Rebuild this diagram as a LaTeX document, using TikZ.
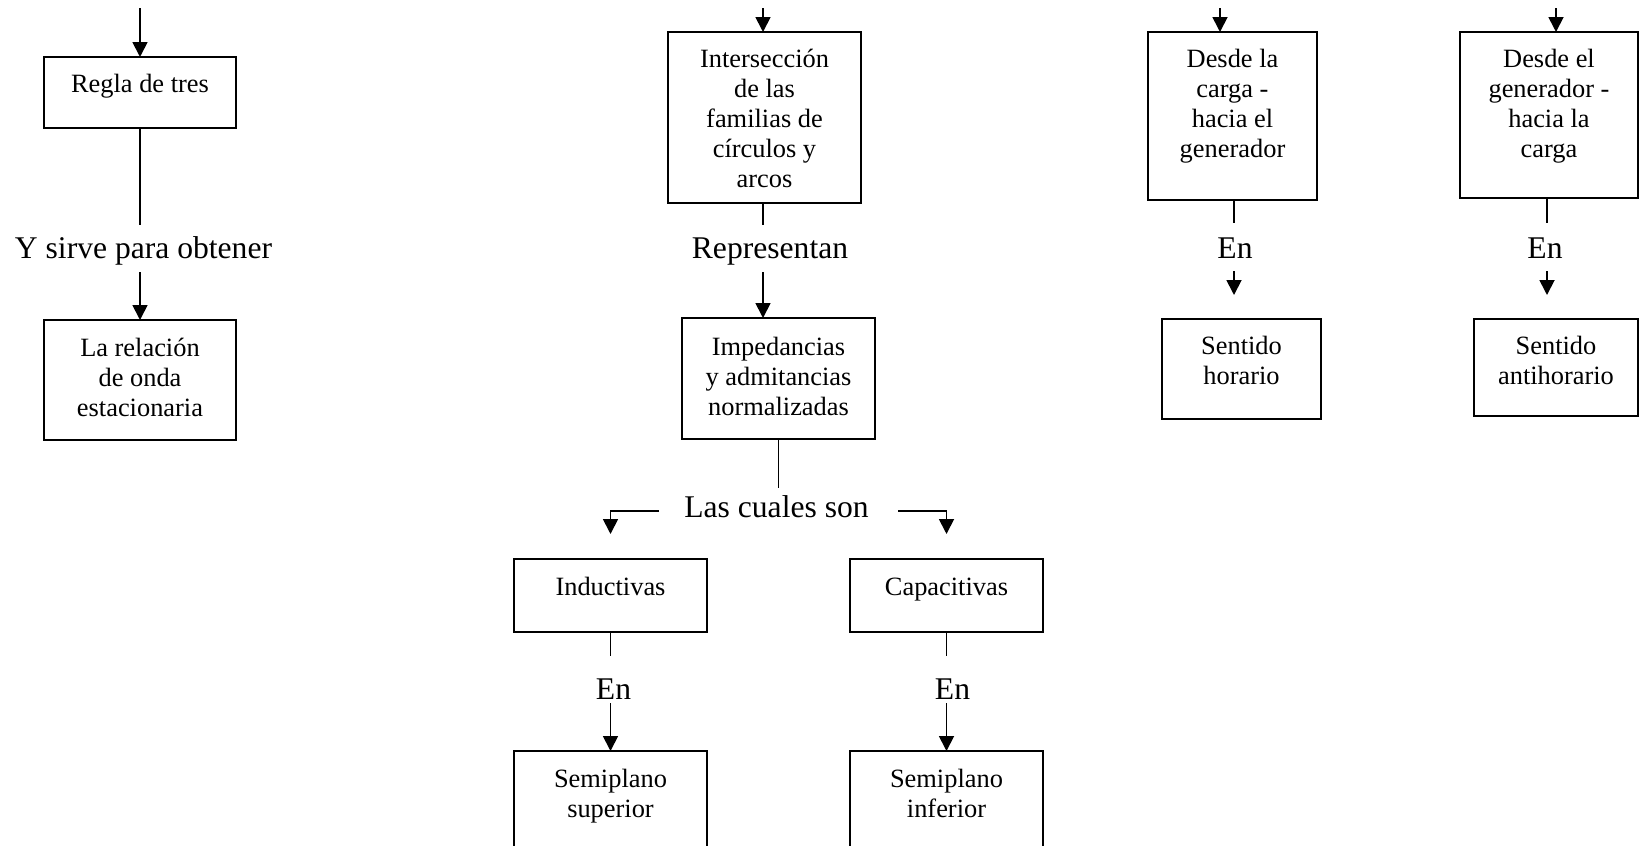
\documentclass[tikz,border=0pt]{standalone}
\usepackage{fontspec}
\setmainfont{Liberation Serif}
\usetikzlibrary{arrows.meta}

% font sizes for box texts and for the connector labels
\newcommand\boxfont{\fontsize{13.2}{15}\selectfont}
\newcommand\lblfont{\fontsize{15.8}{18}\selectfont}
% centred lines, aligned on the baseline of the first line
\newcommand\stack[1]{\begin{tabular}[t]{@{}c@{}}#1\end{tabular}}
% empty framed box given by its corners (x1,y1) and (x2,y2)
\newcommand\frameat[5]{%
  \node[frame, minimum width={(#4-#2)*0.5pt}, minimum height={(#5-#3)*0.5pt}] (#1) at (#2,#3) {};}

\begin{document}
\begin{tikzpicture}[x=0.5pt, y=-0.5pt,
  frame/.style={draw, line width=1pt, inner sep=0pt, outer sep=0pt, anchor=north west},
  btext/.style={anchor=base, inner sep=0pt, outer sep=0pt, font=\boxfont},
  lbl/.style={anchor=base, inner sep=0pt, outer sep=0pt, font=\lblfont},
  conn/.style={line width=0.8pt},
  arr/.style={line width=0.9pt, -{Triangle[width=7.5pt,length=7.5pt]}}]

\useasboundingbox (0,0) rectangle (1639,846);
\clip (0,0) rectangle (1639,846);

% ---------- column 1 ----------
\coordinate (s1) at (140,8);
\frameat{boxA}{44}{57}{236}{128}
\node[btext] (boxA-t) at (140,92) {\stack{Regla de tres}};
\draw[arr] (s1) -- (boxA.north);
\coordinate (l1) at (140,225);
\draw[conn] (boxA.south) -- (l1);
\node[lbl] (lblA) at (143.5,258) {Y sirve para obtener};
\coordinate (m1) at (140,272);
\frameat{boxB}{44}{320}{236}{440}
\node[btext] (boxB-t) at (140,356) {\stack{La relación\\de onda\\estacionaria}};
\draw[arr] (m1) -- (boxB.north);

% ---------- column 2 ----------
\coordinate (s2) at (763,8);
\frameat{boxC}{668}{32}{861}{203}
\node[btext] (boxC-t) at (764.5,68)
  {\stack{Intersección\\de las\\familias de\\círculos y\\arcos}};
\draw[arr] (s2) -- (s2 |- boxC.north);
\coordinate (l2) at (763,225);
\draw[conn] (l2 |- boxC.south) -- (l2);
\node[lbl] (lblC) at (770,258) {Representan};
\coordinate (m2) at (763,272);
\frameat{boxD}{682}{318}{875}{439}
\node[btext] (boxD-t) at (778.5,355)
  {\stack{Impedancias\\y admitancias\\normalizadas}};
\draw[arr] (m2) -- (m2 |- boxD.north);
\coordinate (l3) at (778.5,488);
\draw[conn] (l3 |- boxD.south) -- (l3);
\node[lbl] (lblD) at (776.5,517) {Las cuales son};

% branch to the left
\coordinate (bl0) at (659,511);
\coordinate (bl1) at (610.5,534);
\draw[arr] (bl0) -| (bl1);
% branch to the right
\coordinate (br0) at (898,511);
\coordinate (br1) at (946.5,534);
\draw[arr] (br0) -| (br1);

% left branch boxes
\frameat{boxI}{514}{559}{707}{632}
\node[btext] (boxI-t) at (610.5,595) {\stack{Inductivas}};
\coordinate (l4) at (610.5,656);
\draw[conn] (boxI.south) -- (l4);
\node[lbl] (lblI) at (613.5,699) {En};
\coordinate (m4) at (610.5,703);
\frameat{boxJ}{514}{751}{707}{900}
\node[btext] (boxJ-t) at (610.5,787) {\stack{Semiplano\\superior}};
\draw[arr] (m4) -- (boxJ.north);

% right branch boxes
\frameat{boxK}{850}{559}{1043}{632}
\node[btext] (boxK-t) at (946.5,595) {\stack{Capacitivas}};
\coordinate (l5) at (946.5,656);
\draw[conn] (boxK.south) -- (l5);
\node[lbl] (lblK) at (952.5,699) {En};
\coordinate (m5) at (946.5,703);
\frameat{boxL}{850}{751}{1043}{900}
\node[btext] (boxL-t) at (946.5,787) {\stack{Semiplano\\inferior}};
\draw[arr] (m5) -- (boxL.north);

% ---------- column 3 ----------
\coordinate (s3) at (1220,8);
\frameat{boxE}{1148}{32}{1317}{200}
\node[btext] (boxE-t) at (1232.5,68)
  {\stack{Desde la\\carga -\\hacia el\\generador}};
\draw[arr] (s3) -- (s3 |- boxE.north);
\coordinate (l6) at (1234,223);
\draw[conn] (l6 |- boxE.south) -- (l6);
\node[lbl] (lblE) at (1235,258) {En};
\coordinate (m6a) at (1234,271);
\coordinate (m6b) at (1234,295);
\draw[arr] (m6a) -- (m6b);
\frameat{boxF}{1162}{319}{1321}{419}
\node[btext] (boxF-t) at (1241.5,354) {\stack{Sentido\\horario}};

% ---------- column 4 ----------
\coordinate (s4) at (1556,8);
\frameat{boxG}{1460}{32}{1638}{198}
\node[btext] (boxG-t) at (1549,68)
  {\stack{Desde el\\generador -\\hacia la\\carga}};
\draw[arr] (s4) -- (s4 |- boxG.north);
\coordinate (l7) at (1547,223);
\draw[conn] (l7 |- boxG.south) -- (l7);
\node[lbl] (lblG) at (1545,258) {En};
\coordinate (m7a) at (1547,271);
\coordinate (m7b) at (1547,295);
\draw[arr] (m7a) -- (m7b);
\frameat{boxH}{1474}{319}{1638}{416}
\node[btext] (boxH-t) at (1556,354) {\stack{Sentido\\antihorario}};

\end{tikzpicture}
\end{document}
